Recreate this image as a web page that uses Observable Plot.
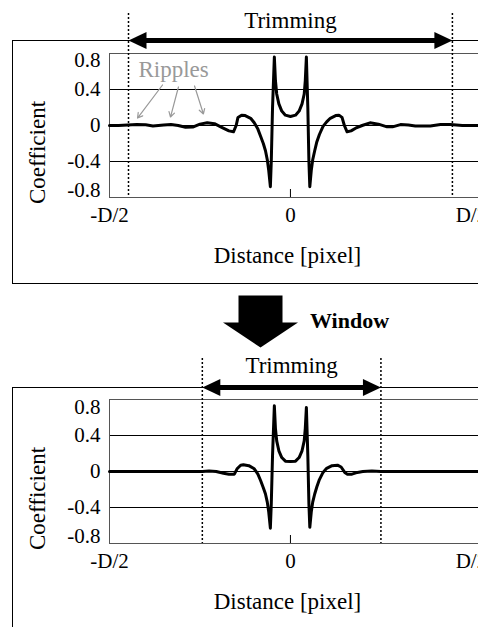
<!DOCTYPE html>
<html>
<head>
<meta charset="utf-8">
<script src="https://cdn.jsdelivr.net/npm/d3@7"></script>
<script src="https://cdn.jsdelivr.net/npm/@observablehq/plot@0.6"></script>
<style>
  html, body { margin: 0; padding: 0; background: white; overflow: hidden; width: 478px; height: 627px; }
  #chart svg { display: block; }
</style>
</head>
<body>
<div id="chart"></div>
<script>
// ---------- data ----------
const xDomain = [-1, 1.1];          // distance in units of D/2 (plot runs past D/2)
const yDomain = [-0.8, 0.8];
const xTicks = [-1, 0, 1];
const xTickLabels = ["-D/2", "0", "D/2"];
const yTicks = [0.8, 0.4, 0, -0.4, -0.8];
const yTickLabels = ["0.8", "0.4", "0", "-0.4", "-0.8"];
const yGrid = [0.4, 0, -0.4];

// trimming ranges (before / after window)
const trimBefore = [-0.895, 0.895];
const trimAfter = [-0.487, 0.5];

// coefficient curve before windowing: [distance, coefficient]
const curveBefore = [
  [-1.0, 0.0], [-0.95, 0.0], [-0.9, 0.005], [-0.85, 0.01], [-0.8, 0.008], [-0.76, -0.005],
  [-0.7, 0.005], [-0.66, 0.01], [-0.62, 0.0], [-0.58, -0.02], [-0.54, -0.018], [-0.5, 0.015],
  [-0.46, 0.03], [-0.42, 0.02], [-0.38, -0.02], [-0.34, -0.06], [-0.315, -0.07], [-0.3, 0.0],
  [-0.29, 0.09], [-0.27, 0.115], [-0.25, 0.11], [-0.22, 0.08], [-0.2, 0.03], [-0.18, -0.04],
  [-0.165, -0.12], [-0.15, -0.2], [-0.138, -0.28], [-0.128, -0.38], [-0.12, -0.5], [-0.111, -0.68],
  [-0.106, -0.4], [-0.099, 0.2], [-0.089, 0.76], [-0.083, 0.5], [-0.076, 0.35], [-0.064, 0.24],
  [-0.048, 0.16], [-0.028, 0.115], [0.0, 0.1], [0.028, 0.115], [0.048, 0.16], [0.064, 0.24],
  [0.076, 0.35], [0.082, 0.5], [0.088, 0.76], [0.096, 0.2], [0.102, -0.4], [0.107, -0.68],
  [0.115, -0.5], [0.123, -0.38], [0.134, -0.28], [0.146, -0.18], [0.16, -0.1], [0.18, -0.01],
  [0.2, 0.04], [0.22, 0.08], [0.25, 0.11], [0.268, 0.115], [0.285, 0.09], [0.298, 0.0],
  [0.313, -0.07], [0.335, -0.06], [0.36, -0.03], [0.396, 0.0], [0.44, 0.03], [0.486, 0.015],
  [0.534, -0.015], [0.564, -0.015], [0.608, 0.01], [0.652, 0.005], [0.69, -0.005], [0.773, -0.005],
  [0.829, 0.01], [0.884, 0.01], [0.95, 0.0], [1.1, 0.0]
];

// coefficient curve after windowing
const curveAfter = [
  [-1.0, 0.0], [-0.487, 0.0], [-0.45, 0.005], [-0.41, 0.0], [-0.37, -0.02], [-0.34, -0.03],
  [-0.31, -0.03], [-0.295, 0.03], [-0.275, 0.07], [-0.26, 0.075], [-0.23, 0.065], [-0.2, 0.03],
  [-0.18, -0.03], [-0.165, -0.1], [-0.15, -0.18], [-0.138, -0.25], [-0.128, -0.34], [-0.12, -0.45],
  [-0.111, -0.63], [-0.106, -0.36], [-0.099, 0.18], [-0.089, 0.73], [-0.083, 0.48], [-0.076, 0.34],
  [-0.064, 0.23], [-0.048, 0.155], [-0.028, 0.115], [0.0, 0.11], [0.028, 0.115], [0.048, 0.155],
  [0.064, 0.23], [0.076, 0.34], [0.082, 0.48], [0.088, 0.71], [0.096, 0.18], [0.102, -0.36],
  [0.107, -0.62], [0.115, -0.45], [0.123, -0.34], [0.134, -0.25], [0.146, -0.17], [0.16, -0.09],
  [0.18, -0.01], [0.2, 0.035], [0.23, 0.065], [0.26, 0.07], [0.28, 0.05], [0.3, -0.01],
  [0.315, -0.03], [0.34, -0.03], [0.37, -0.01], [0.4, 0.0], [0.45, 0.005], [0.5, 0.0], [1.1, 0.0]
];

// "Ripples" annotation: arrows [x1, y1, x2, y2] in data units
const rippleLabel = ["Ripples"];
const rippleLabelPos = [-0.646, 0.617];
const rippleArrows = [
  [-0.707, 0.45, -0.845, 0.083],
  [-0.619, 0.428, -0.663, 0.094],
  [-0.530, 0.439, -0.481, 0.128]
];

// ---------- helpers ----------
const FONT = "'Liberation Serif','Times New Roman',Times,serif";
const xFmt = d => xTickLabels[xTicks.indexOf(d)];
const yFmt = d => yTickLabels[yTicks.indexOf(d)];

const headLeft = { draw(ctx, size) { const h = Math.sqrt(size / Math.PI);
  ctx.moveTo(0, 0); ctx.lineTo(2 * h, -0.95 * h); ctx.lineTo(2 * h, 0.95 * h); ctx.closePath(); } };
const headRight = { draw(ctx, size) { const h = Math.sqrt(size / Math.PI);
  ctx.moveTo(0, 0); ctx.lineTo(-2 * h, -0.95 * h); ctx.lineTo(-2 * h, 0.95 * h); ctx.closePath(); } };
const bigArrow = { draw(ctx, size) { const h = Math.sqrt(size / Math.PI);
  ctx.moveTo(0, 0); ctx.lineTo(-1.5 * h, -h); ctx.lineTo(-0.88 * h, -h); ctx.lineTo(-0.88 * h, -2.08 * h);
  ctx.lineTo(0.88 * h, -2.08 * h); ctx.lineTo(0.88 * h, -h); ctx.lineTo(1.5 * h, -h); ctx.closePath(); } };

function panel(o) {
  const yMax = yDomain[1];
  const mid = (o.trim[0] + o.trim[1]) / 2;
  const marks = [
    Plot.frame({insetLeft: -97, insetTop: o.boxTop, insetBottom: o.boxBottom, insetRight: -40, stroke: "black", strokeWidth: 1}),
    Plot.ruleY(yGrid, {stroke: "black", strokeWidth: 1}),
    Plot.frame({stroke: "#555", strokeWidth: 1}),
    Plot.ruleX([0], {insetTop: 136, stroke: "black"}),
    Plot.axisY(yTicks.slice(1, 4), {tickSize: 0, tickPadding: 9, tickFormat: yFmt, fontSize: 21}),
    Plot.axisY([yTicks[0]], {tickSize: 0, tickPadding: 9, tickFormat: yFmt, fontSize: 21, dy: o.topTickDy}),
    Plot.axisY([yTicks[4]], {tickSize: 0, tickPadding: 9, tickFormat: yFmt, fontSize: 21, dy: -7}),
    Plot.axisX(xTicks, {tickSize: 0, tickPadding: 10, tickFormat: xFmt, fontSize: 21}),
    Plot.text(["Coefficient"], {frameAnchor: "left", textAnchor: "middle", lineAnchor: "middle",
      dx: -72, dy: 27, rotate: -90, fontSize: 23}),
    Plot.text(["Distance [pixel]"], {frameAnchor: "bottom", lineAnchor: "middle", dx: -12, dy: 58, fontSize: 23}),
    Plot.ruleX(o.trim, {stroke: "black", strokeDasharray: "2,2", strokeWidth: 1.5, insetTop: o.trimInset}),
    Plot.line(o.curve, {x: d => d[0], y: d => d[1], stroke: "black", strokeWidth: 3}),
    Plot.arrow([o.trim], {x1: d => d[0], x2: d => d[1], y1: () => yMax, y2: () => yMax, dy: o.arrowDy,
      stroke: "black", strokeWidth: 5, headLength: 0, insetStart: 10, insetEnd: 10}),
    Plot.dot([o.trim[0]], {x: d => d, y: () => yMax, dy: o.arrowDy, symbol: headLeft, r: 9, fill: "black", stroke: "none"}),
    Plot.dot([o.trim[1]], {x: d => d, y: () => yMax, dy: o.arrowDy, symbol: headRight, r: 9, fill: "black", stroke: "none"}),
    Plot.text(["Trimming"], {x: () => mid, y: () => yMax, dy: o.titleDy, fontSize: 23}),
    ...(o.extras || [])
  ];
  return Plot.plot({
    width: 500, height: o.height,
    marginLeft: 109, marginRight: 11, marginTop: o.marginTop, marginBottom: o.marginBottom,
    x: {domain: xDomain}, y: {domain: yDomain},
    style: {fontFamily: FONT, fontSize: "21px", maxWidth: "none", background: "white", color: "black"},
    marks
  });
}

const panelBefore = panel({
  curve: curveBefore, trim: trimBefore,
  height: 351, marginTop: 53, marginBottom: 154,
  boxTop: -13, boxBottom: -86, trimInset: -40, arrowDy: -13, titleDy: -33, topTickDy: 7,
  extras: [
    Plot.arrow(rippleArrows, {x1: d => d[0], y1: d => d[1], x2: d => d[2], y2: d => d[3],
      stroke: "#999", strokeWidth: 1.2, headLength: 7}),
    Plot.text(rippleLabel, {x: () => rippleLabelPos[0], y: () => rippleLabelPos[1], fill: "#999", fontSize: 23}),
    Plot.dot([0], {frameAnchor: "bottom", dx: -39, dy: 150, symbol: bigArrow, r: 25, fill: "black", stroke: "none"}),
    Plot.text(["Window"], {frameAnchor: "bottom", lineAnchor: "middle", dx: 50, dy: 123, fontSize: 22, fontWeight: "bold"})
  ]
});

const panelAfter = panel({
  curve: curveAfter, trim: trimAfter,
  height: 276, marginTop: 48, marginBottom: 84,
  boxTop: -12, boxBottom: -120, trimInset: -41, arrowDy: -12, titleDy: -34, topTickDy: 8
});

document.getElementById("chart").append(panelBefore, panelAfter);
</script>
</body>
</html>
